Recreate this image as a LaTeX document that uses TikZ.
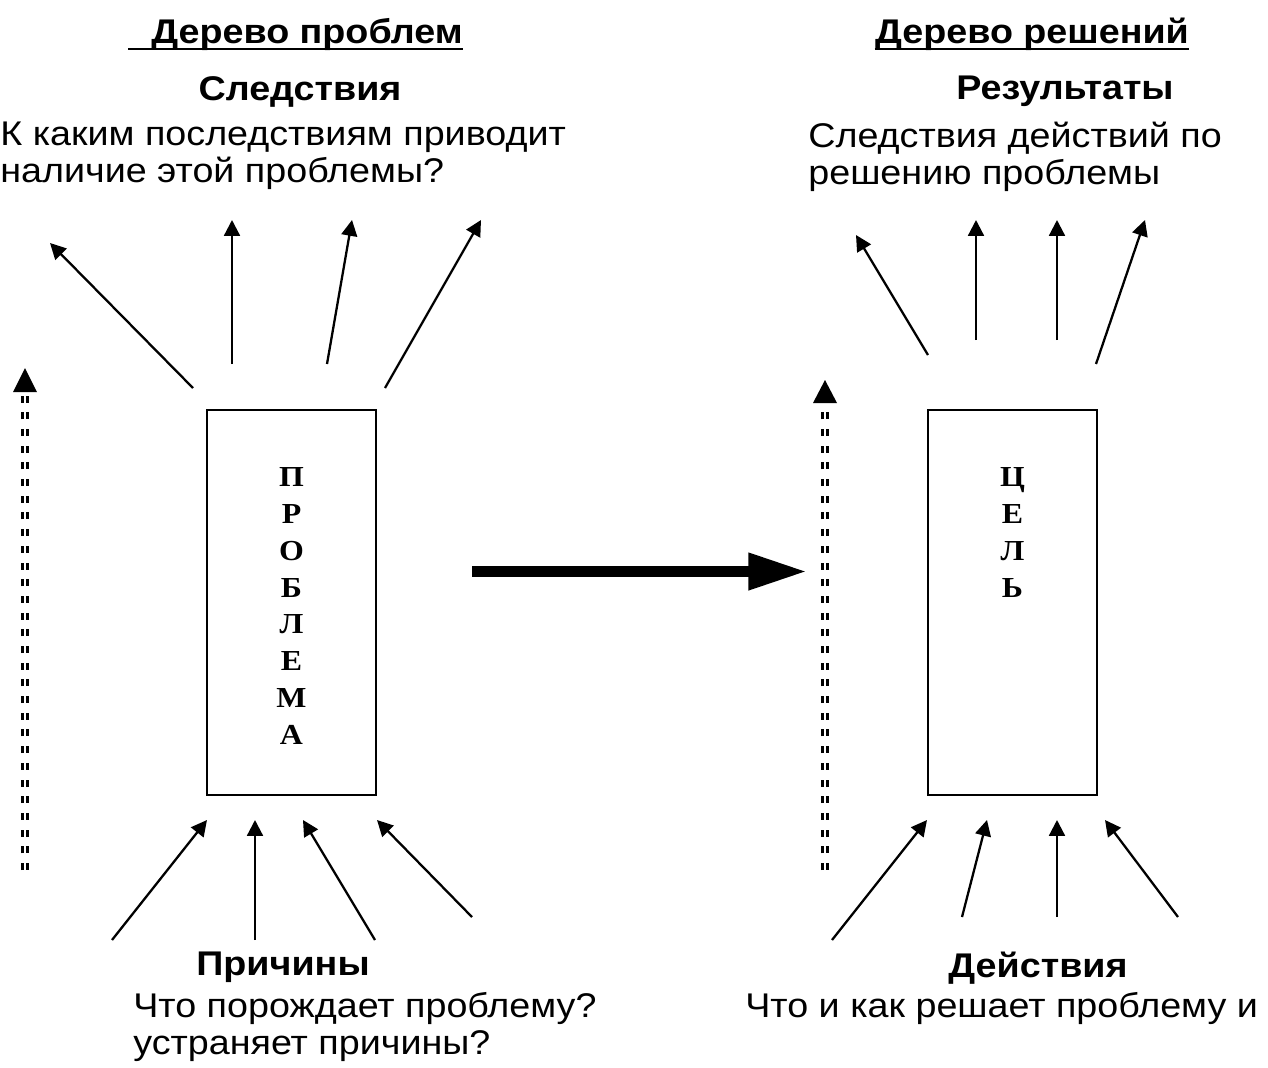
\documentclass[tikz,border=0pt]{standalone}
\usepackage{fontspec}
\setmainfont{Liberation Sans}[FakeStretch=1.1]
\newfontfamily\boxfont{Liberation Serif}[FakeStretch=1.1]
\usetikzlibrary{arrows.meta,calc}

\tikzset{
  txt/.style={font=\fontsize{19.5}{21}\selectfont, inner sep=0pt, align=left},
  ttl/.style={font=\fontsize{19.5}{21}\selectfont\bfseries, inner sep=0pt},
  uline/.style={line width=1.6pt},
  box/.style={draw, line width=0.9pt, minimum width=3.38cm, minimum height=7.7cm, inner sep=0pt},
  word/.style={font=\fontsize{16.5}{21}\selectfont\boxfont\bfseries, align=center, anchor=north, inner sep=0pt},
  ray/.style={line width=1.3pt, -{Triangle[length=9pt,width=9pt]}},
  trend/.style={double, line width=1.5pt, double distance=1.2pt, dash pattern=on 4pt off 5.5pt},
  trendtip/.style={fill=black},
  bigarrow/.style={line width=6.2pt, -{Triangle[length=33.4pt,width=19.8pt]}}
}

\begin{document}
\begin{tikzpicture}[x=0.02cm,y=-0.02cm]
\useasboundingbox (0,0) rectangle (1268,1068);

% headings
\node[ttl, anchor=north] (probtree) at (307,18) {Дерево проблем};
\node[ttl, anchor=north] (soltree) at (1032,18) {Дерево решений};
\draw[uline] (128,49) -- (probtree.east |- 0,49);
\draw[uline] (soltree.west |- 0,49) -- (soltree.east |- 0,49);

% upper texts
\node[ttl, anchor=north] (effects) at (300,76) {Следствия};
\node[txt, anchor=north west] (effq) at (0,122) {К каким последствиям приводит\\наличие этой проблемы?};
\node[ttl, anchor=north] (results) at (1065,76) {Результаты};
\node[txt, anchor=north west] (resq) at (808,122) {Следствия действий по\\решению проблемы};

% boxes
\node[box] (problem) at (291.5,602.5) {};
\node[word] (problemtxt) at (291.5,467) {П\\Р\\О\\Б\\Л\\Е\\М\\А};
\node[box] (goal) at (1012.5,602.5) {};
\node[word] (goaltxt) at (1012.5,467) {Ц\\Е\\Л\\Ь};

% consequences / results
\foreach \a/\b/\c/\d in {193/388/50/243, 232/364/232/220, 327/364/352/220, 385/388/481/220,
    928/355/856/235, 976/340/976/220, 1057/340/1057/220, 1096/364/1145/220}
  \draw[ray] (\a,\b) -- (\c,\d);

% causes / actions
\foreach \a/\b/\c/\d in {112/940/207/820, 255/940/255/820, 375/940/303/820, 472/917/377/820,
    832/940/927/820, 962/917/987/820, 1057/917/1057/820, 1178/917/1105/820}
  \draw[ray] (\a,\b) -- (\c,\d);

% dashed time arrows
\draw[trend] (25,870) -- (25,392);
\fill[trendtip] (13,392) -- (25,368) -- (37,392) -- cycle;
\draw[trend] (825,870) -- (825,403);
\fill[trendtip] (813,403) -- (825,380) -- (837,403) -- cycle;

% transition
\draw[bigarrow] (472,571.5) -- (807,571.5);

% lower texts
\node[ttl, anchor=north] (causes) at (283,952) {Причины};
\node[txt, anchor=north west] (causq) at (133,992) {Что порождает проблему?\\устраняет причины?};
\node[ttl, anchor=north] (actions) at (1038,952) {Действия};
\node[txt, anchor=north west] (actq) at (745,992) {Что и как решает проблему и};
\end{tikzpicture}
\end{document}
